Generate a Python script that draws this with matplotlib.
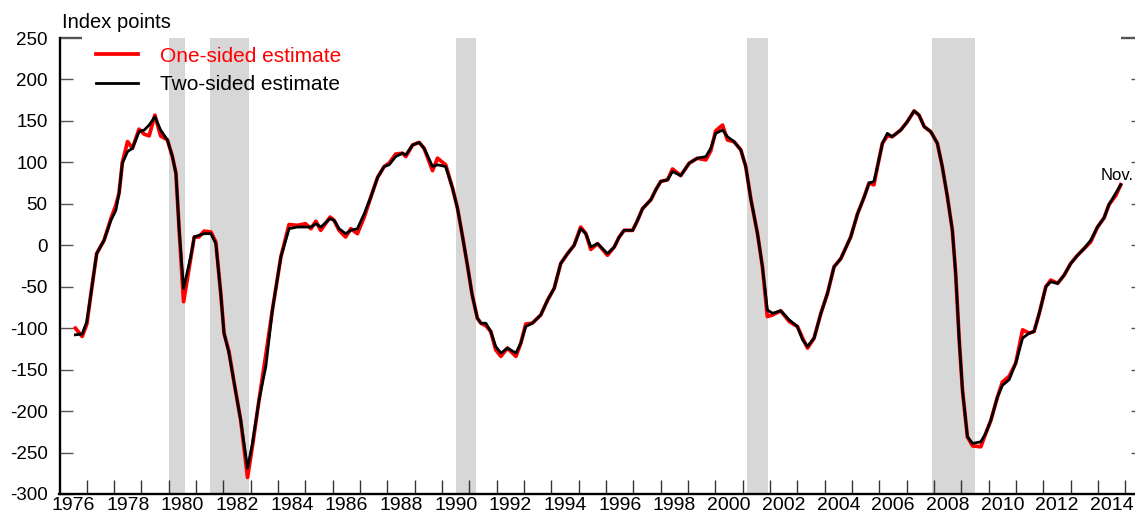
import matplotlib
matplotlib.use('Agg')
import matplotlib.pyplot as plt

plt.rcParams['font.family'] = ['Liberation Sans', 'DejaVu Sans']

# ---------------- data ----------------
years = [
    1976.58, 1976.83, 1977.00, 1977.17, 1977.36, 1977.63, 1977.88, 1978.06, 1978.18, 1978.30,
    1978.49, 1978.67, 1978.91, 1979.10, 1979.28, 1979.49, 1979.70, 1979.95, 1980.13, 1980.26,
    1980.38, 1980.54, 1980.80, 1980.93, 1981.10, 1981.29, 1981.54, 1981.72, 1981.90, 1982.02,
    1982.20, 1982.39, 1982.63, 1982.88, 1983.06, 1983.30, 1983.55, 1983.79, 1984.10, 1984.40,
    1984.70, 1985.00, 1985.20, 1985.38, 1985.56, 1985.90, 1986.05, 1986.23, 1986.47, 1986.66,
    1986.90, 1987.15, 1987.39, 1987.64, 1987.88, 1988.06, 1988.30, 1988.55, 1988.67, 1988.92,
    1989.16, 1989.34, 1989.65, 1989.83, 1990.13, 1990.38, 1990.56, 1990.75, 1990.93, 1991.10,
    1991.29, 1991.42, 1991.60, 1991.78, 1991.96, 1992.15, 1992.39, 1992.70, 1992.88, 1993.06,
    1993.30, 1993.61, 1993.86, 1994.10, 1994.34, 1994.59, 1994.83, 1995.07, 1995.26, 1995.44,
    1995.69, 1996.05, 1996.30, 1996.48, 1996.66, 1996.97, 1997.15, 1997.33, 1997.64, 1997.82,
    1998.00, 1998.25, 1998.43, 1998.73, 1999.04, 1999.34, 1999.65, 1999.83, 2000.01, 2000.26,
    2000.44, 2000.68, 2000.93, 2001.11, 2001.30, 2001.54, 2001.72, 2001.90, 2002.09, 2002.39,
    2002.70, 2003.00, 2003.19, 2003.37, 2003.61, 2003.86, 2004.10, 2004.34, 2004.59, 2004.95,
    2005.20, 2005.44, 2005.62, 2005.80, 2005.93, 2006.11, 2006.29, 2006.47, 2006.78, 2007.02,
    2007.27, 2007.45, 2007.64, 2007.88, 2008.12, 2008.30, 2008.49, 2008.67, 2008.79, 2008.92,
    2009.04, 2009.22, 2009.41, 2009.71, 2009.89, 2010.08, 2010.32, 2010.50, 2010.75, 2010.99,
    2011.24, 2011.48, 2011.66, 2011.85, 2012.09, 2012.27, 2012.52, 2012.76, 2013.00, 2013.25,
    2013.49, 2013.73, 2013.98, 2014.22, 2014.40, 2014.65, 2014.83,
]

two_sided = [
    -108, -107, -92, -54, -10, 6, 30, 42, 63, 99,
    113, 117, 137, 139, 145, 155, 139, 127, 107, 87,
    18, -52, -14, 10, 12, 14, 14, 2, -58, -106,
    -130, -166, -211, -269, -239, -187, -146, -78, -14, 20,
    22, 22, 22, 26, 22, 32, 30, 20, 14, 18,
    20, 38, 58, 82, 95, 97, 107, 111, 109, 121,
    124, 117, 95, 97, 95, 69, 45, 10, -25, -60,
    -88, -94, -94, -104, -122, -130, -124, -130, -118, -98,
    -94, -84, -66, -52, -22, -10, 0, 20, 14, -2,
    2, -10, -2, 10, 18, 18, 30, 44, 55, 67,
    77, 79, 89, 84, 99, 105, 107, 117, 135, 139,
    131, 125, 115, 95, 55, 14, -26, -78, -82, -79,
    -90, -98, -114, -122, -112, -82, -58, -26, -16, 10,
    38, 58, 75, 77, 95, 123, 135, 131, 139, 149,
    162, 157, 143, 137, 123, 95, 58, 18, -34, -114,
    -175, -231, -239, -237, -227, -211, -183, -169, -162, -142,
    -112, -106, -104, -82, -50, -44, -46, -36, -22, -12,
    -4, 6, 22, 33, 49, 63, 73,
]

one_sided = [
    -100, -110, -95, -54, -10, 6, 32, 48, 63, 100,
    125, 117, 140, 134, 132, 157, 132, 127, 107, 87,
    18, -68, -16, 10, 10, 17, 16, 4, -58, -106,
    -128, -166, -211, -280, -242, -187, -132, -78, -14, 25,
    24, 26, 20, 29, 18, 34, 30, 18, 10, 20,
    14, 34, 58, 82, 95, 99, 110, 111, 107, 121,
    124, 117, 90, 105, 97, 69, 45, 10, -25, -60,
    -88, -94, -97, -104, -126, -134, -124, -134, -118, -95,
    -94, -84, -66, -52, -22, -10, 0, 22, 14, -5,
    2, -12, -2, 10, 18, 18, 30, 44, 55, 67,
    77, 79, 92, 84, 99, 105, 103, 114, 138, 145,
    127, 125, 115, 95, 55, 14, -26, -86, -84, -79,
    -92, -98, -112, -124, -112, -82, -58, -26, -16, 10,
    38, 58, 75, 73, 95, 123, 132, 131, 139, 149,
    162, 157, 143, 137, 123, 95, 58, 18, -34, -114,
    -175, -231, -242, -243, -227, -211, -183, -165, -158, -142,
    -102, -106, -104, -82, -50, -42, -46, -36, -22, -12,
    -4, 4, 22, 33, 49, 60, 73,
]

recession_start = [1980.00, 1981.50, 1990.50, 2001.17, 2007.92]
recession_end = [1980.58, 1982.92, 1991.25, 2001.92, 2009.50]

year_ticks = list(range(1977, 2016))
label_years = list(range(1976, 2015, 2))
x_labels = [str(y) for y in label_years]
y_ticks = list(range(-300, 251, 50))

# ---------------- figure ----------------
W, H = 1135, 514
fig = plt.figure(figsize=(W / 100, H / 100), dpi=100)
left_px, bottom_px, top_px = 59.5, 494, 38
ax = fig.add_axes([left_px / W, (H - bottom_px) / H, 1 - left_px / W, (bottom_px - top_px) / H])

px_per_year = 27.33
ax.set_xlim(1976, 1976 + (W - left_px) / px_per_year)
ax.set_ylim(-300, 250)

for s, e in zip(recession_start, recession_end):
    ax.axvspan(s, e, color='#d7d7d7', lw=0, zorder=0)

ax.plot(years, one_sided, color='#ff0000', lw=2.7, label='One-sided estimate', zorder=2,
        solid_joinstyle='round')
ax.plot(years, two_sided, color='black', lw=2.0, label='Two-sided estimate', zorder=3,
        solid_joinstyle='round')

for side in ['top', 'right']:
    ax.spines[side].set_visible(False)
for side in ['left', 'bottom']:
    ax.spines[side].set_linewidth(1.7)
    ax.spines[side].set_zorder(5)

# y axis
ax.set_yticks(y_ticks)
ax.set_yticklabels([str(v) for v in y_ticks])
ax.tick_params(axis='y', direction='in', length=9.4, width=1.0, color='#555555',
               labelsize=13.5, pad=8.5, left=True, right=True)
yt = ax.yaxis.get_major_ticks()
for t, v in zip(yt, y_ticks):
    t.tick2line.set_markersize(3)
    if v == 250:
        t.tick1line.set_markersize(16)
        t.tick1line.set_markeredgewidth(1.7)
        t.tick1line.set_color('black')
        t.tick2line.set_markersize(10)
        t.tick2line.set_markeredgewidth(1.7)
        t.tick2line.set_color('black')

# x axis
ax.set_xticks(year_ticks)
ax.set_xticklabels([''] * len(year_ticks))
ax.set_xticks([y + 0.5 for y in label_years], minor=True)
ax.set_xticklabels(x_labels, minor=True)
ax.tick_params(axis='x', which='major', direction='in', length=10, width=1.0, color='#333333')
ax.tick_params(axis='x', which='minor', length=0, labelsize=14, pad=2.5)

# legend
leg = ax.legend(loc='upper left', bbox_to_anchor=(0.0337, 0.981), frameon=False, fontsize=15,
                handlelength=2.05, handletextpad=1.05, labelspacing=0.45,
                borderaxespad=0, borderpad=0, labelcolor='linecolor')

# annotations
fig.text(62 / W, 1 - 28.3 / H, 'Index points', fontsize=14.5, ha='left', va='baseline')
ax.annotate('Nov.', xy=(years[-1], two_sided[-1]), xytext=(9.5, 3.6), textcoords='offset points',
            ha='right', va='baseline', fontsize=12)

fig.savefig('out.png', dpi=100)
